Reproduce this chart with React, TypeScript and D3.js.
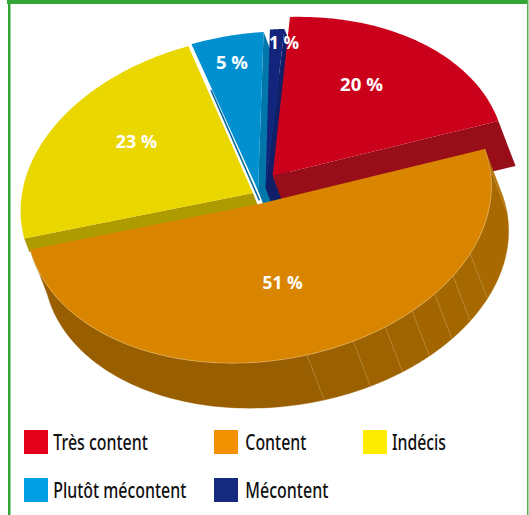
import React from "react";
import * as d3 from "d3";

const categories = ["Très content", "Content", "Indécis", "Plutôt mécontent", "Mécontent"];
const values = [20, 51, 23, 5, 1];
const labels = ["20 %", "51 %", "23 %", "5 %", "1 %"];
const topColors = ["#cb001a", "#d98500", "#ebd700", "#0090cf", "#13247c"];
const wallColors = ["#970e18", "#a86a00", "#ad9b00", "#0077a8", "#101f68"];
const legendColors = ["#e2001a", "#f39200", "#ffed00", "#009fe3", "#15297f"];
const wallFacets = [-1.8, 5, 36.6, 45.3, 52.8, 60.7, 69, 78, 90, 181.8];

const W = 529, H = 515;
const U: [number, number] = [227.4, -50.3];
const V: [number, number] = [48, 151];
const D: [number, number] = [17.2, 45];
const centers: [number, number][] = [[272.6, 176], [259, 204], [253, 193], [258, 190.5], [265.5, 188]];
const angleShift = [0, 0, 0, 0.7, 0.4];
const endExtra = [0, 0, 1.2, 0, 0];
const labelPos: [number, number][] = [[361.5, 91], [282.6, 289], [136.5, 148], [232, 69], [284, 49]];
const labelWidth = [43, 40, 41.5, 32, 30];
const legendPos: [number, number][] = [[24, 430], [214, 430], [363, 430], [24, 478], [214, 478]];
const legendText = [53.3, 245.3, 392, 53.3, 245.3];
const legendWidth = [94.5, 61, 54, 133, 83];

const rad = (d: number) => (d * Math.PI) / 180;
const pt = (c: [number, number], a: number, r = 1, off: [number, number] = [0, 0]): [number, number] => [
  c[0] + r * (U[0] * Math.cos(a) + V[0] * Math.sin(a)) + off[0],
  c[1] + r * (U[1] * Math.cos(a) + V[1] * Math.sin(a)) + off[1],
];
const line = d3.line();
const arcPts = (c: [number, number], a0: number, a1: number, off: [number, number] = [0, 0]) =>
  d3.range(0, 61).map((i) => pt(c, a0 + ((a1 - a0) * i) / 60, 1, off));

const pie = d3.pie<number>().sort(null).startAngle(rad(-1.8 - 72)).endAngle(rad(-1.8 + 288))(values);
const a0Of = (i: number) => pie[i].startAngle + rad(angleShift[i]);
const a1Of = (i: number) => pie[i].endAngle + rad(angleShift[i] + endExtra[i]);

const wedge = (i: number) => {
  const c = centers[i];
  return line([c, ...arcPts(c, a0Of(i), a1Of(i))]) + "Z";
};
const radial = (i: number, a: number, k = 1) => {
  const c = centers[i];
  const off: [number, number] = [D[0] * k, D[1] * k];
  return line([c, pt(c, a), pt(c, a, 1, off), [c[0] + off[0], c[1] + off[1]]]) + "Z";
};
const facetColor = d3.scaleLinear<string>().domain([0, 100]).range(["#b27100", "#985e00"]).clamp(true);

export default function App() {
  const red = 0, orange = 1, yellow = 2, blue = 3, navy = 4;
  const legendFont = "'Noto Sans', 'Open Sans', sans-serif";
  const yc = centers[yellow];
  const yEnd = pt(yc, a1Of(yellow));
  const along = (t: number, dx: number): [number, number] => [yc[0] + (yEnd[0] - yc[0]) * t + dx, yc[1] + (yEnd[1] - yc[1]) * t];
  return (
    <svg width={W} height={H} style={{ position: "absolute", left: 0, top: 0, background: "#fff" }}>
      {/* frame */}
      <path d={`M8.5 ${H}V4H10V${H}Z`} fill="#33a535" stroke="#33a535" strokeWidth={1} />
      <rect x={7} y={0} width={521} height={4} fill="#33a535" />
      <rect x={527} y={0} width={1.5} height={H} fill="#4fb350" />

      {/* blue */}
      <path d={radial(blue, a1Of(blue))} fill={wallColors[blue]} />
      <path d={wedge(blue)} fill={topColors[blue]} />
      {/* navy */}
      <path d={radial(navy, a1Of(navy))} fill={wallColors[navy]} />
      <path d={wedge(navy)} fill={topColors[navy]} />
      {/* yellow */}
      <path d={radial(yellow, a0Of(yellow), 0.3)} fill={wallColors[yellow]} />
      <path d={wedge(yellow)} fill={topColors[yellow]} />
      <path d={line([along(0.7, 3.2), along(-0.05, 3.2)])!} stroke="#0a6a9a" strokeWidth={1.6} fill="none" />
      <path d={line([along(1, 1), along(-0.06, 1)])!} stroke="#fff" strokeWidth={1.6} fill="none" />
      {/* red */}
      <path d={radial(red, a1Of(red))} fill={wallColors[red]} />
      <path d={wedge(red)} fill={topColors[red]} />
      {/* orange */}
      {wallFacets.slice(0, -1).map((a, i) => {
        const c = centers[orange];
        const a0 = rad(a), a1 = rad(wallFacets[i + 1]);
        return (
          <path key={a} d={line([...arcPts(c, a0, a1), ...arcPts(c, a0, a1, D).reverse()]) + "Z"}
            fill={facetColor(wallFacets[i + 1])} stroke={facetColor(wallFacets[i + 1])} strokeWidth={0.4} />
        );
      })}
      {wallFacets.slice(1, -1).map((a) => (
        <path key={a} d={line([pt(centers[orange], rad(a)), pt(centers[orange], rad(a), 1, D)])!}
          stroke="#d9b878" strokeWidth={0.5} strokeOpacity={0.6} fill="none" />
      ))}
      <path d={wedge(orange)} fill={topColors[orange]} />
      <path d={line(arcPts(centers[orange], a0Of(orange), a1Of(orange)))!}
        stroke="#e8c27a" strokeWidth={0.5} fill="none" />

      {/* value labels */}
      {labels.map((l, i) => (
        <text key={l} x={labelPos[i][0]} y={labelPos[i][1]} textAnchor="middle" fill="#fff"
          fontFamily="'Open Sans', sans-serif" fontWeight={700} fontSize={18}
          textLength={labelWidth[i]} lengthAdjust="spacingAndGlyphs">{l}</text>
      ))}

      {/* legend */}
      {categories.map((c, i) => (
        <g key={c}>
          <rect x={legendPos[i][0]} y={legendPos[i][1]} width={24} height={24} fill={legendColors[i]} />
          <text x={legendText[i]} y={legendPos[i][1] + 20} fill="#111" fontFamily={legendFont} fontWeight={500} fontSize={21}
            textLength={legendWidth[i]} lengthAdjust="spacingAndGlyphs">{c}</text>
        </g>
      ))}
    </svg>
  );
}
